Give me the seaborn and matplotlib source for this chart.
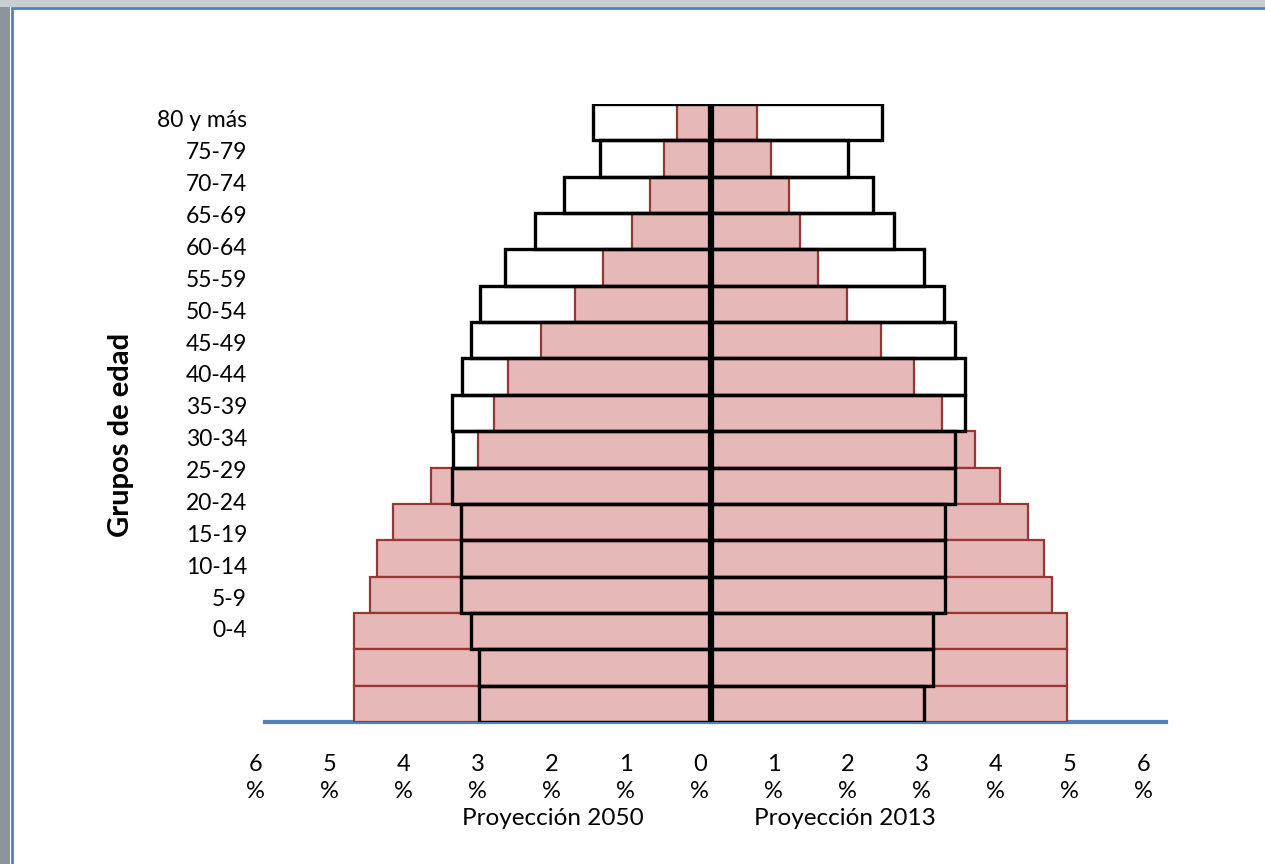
import matplotlib

matplotlib.use("Agg")

import matplotlib.pyplot as plt
import numpy as np
import seaborn as sns
from matplotlib.lines import Line2D
from matplotlib.patches import Rectangle

# === Datos (porcentaje de la población por grupo de edad) ===
grupos = [
    "80 y más", "75-79", "70-74", "65-69", "60-64", "55-59", "50-54",
    "45-49", "40-44", "35-39", "30-34", "25-29", "20-24", "15-19",
    "10-14", "5-9", "0-4",
]
izq_2013 = [0.47, 0.64, 0.83, 1.07, 1.47, 1.84, 2.31, 2.75, 2.94, 3.15,
            3.79, 4.31, 4.52, 4.61, 4.83, 4.83, 4.83]
der_2013 = [0.61, 0.80, 1.05, 1.20, 1.44, 1.83, 2.29, 2.73, 3.12, 3.56,
            3.90, 4.28, 4.49, 4.60, 4.81, 4.81, 4.81]
izq_2050 = [1.60, 1.50, 1.99, 2.38, 2.79, 3.13, 3.25, 3.37, 3.50, 3.49,
            3.50, 3.39, 3.39, 3.39, 3.25, 3.14, 3.14]
der_2050 = [2.30, 1.84, 2.18, 2.47, 2.87, 3.14, 3.29, 3.43, 3.43, 3.29,
            3.29, 3.15, 3.15, 3.15, 3.00, 3.00, 2.87]

ticks_pct = list(range(-6, 7))
tick_labels = [f"{abs(t)}\n%" for t in ticks_pct]

ROSA = "#e6b9b8"
ROJO = "#953735"
AZUL = "#4f81bd"

sns.set_theme(style="white")
plt.rcParams["font.family"] = ["Lato", "DejaVu Sans"]

W, H = 1265, 864
fig = plt.figure(figsize=(W / 100, H / 100), dpi=100)
fig.patch.set_facecolor("white")

# screenshot frame
fig.patches.append(Rectangle((0, 0), 10 / W, 1, transform=fig.transFigure,
                             facecolor="#8e949c", edgecolor="none", zorder=0))
fig.patches.append(Rectangle((0, 1 - 7 / H), 1, 7 / H, transform=fig.transFigure,
                             facecolor="#c9ced4", edgecolor="none", zorder=0))
fig.lines.append(Line2D([11.5 / W, 11.5 / W], [0, 1 - 8 / H], transform=fig.transFigure,
                        color=AZUL, lw=2))
fig.lines.append(Line2D([11.5 / W, 1], [1 - 8 / H, 1 - 8 / H], transform=fig.transFigure,
                        color=AZUL, lw=2))

# 74 px per percent point, zero at x = 711.5 px
X_MIN, X_MAX = -6.2, 6.142
ax_left = 711.5 + X_MIN * 74
ax = fig.add_axes([ax_left / W, 142 / H, (1166 - ax_left) / W, 618 / H])
ax.set_facecolor("none")

bar_common = dict(y=grupos, orient="y", width=1, errorbar=None, ax=ax)

# 2013: relleno rosa con borde rojo
sns.barplot(x=-np.array(izq_2013), color=ROSA, saturation=1,
            edgecolor=ROJO, linewidth=1.6, **bar_common)
sns.barplot(x=np.array(der_2013), color=ROSA, saturation=1,
            edgecolor=ROJO, linewidth=1.6, **bar_common)

# 2050: solo contorno negro
sns.barplot(x=-np.array(izq_2050), fill=False, color="black",
            facecolor="none", edgecolor="black", linewidth=2.4, **bar_common)
sns.barplot(x=np.array(der_2050), fill=False, color="black",
            facecolor="none", edgecolor="black", linewidth=2.4, **bar_common)

ax.axvline(0, color="black", lw=4.5, zorder=5)

# etiquetas del eje y (desfasadas respecto a las barras, como en el original)
ax.set_yticks(np.linspace(-0.09, 13.94, len(grupos)), grupos)
ax.set_xticks(np.array(ticks_pct) - 0.16, tick_labels)
ax.tick_params(axis="y", length=0, pad=4, labelsize=16.5, colors="black")
ax.tick_params(axis="x", length=0, pad=23, labelsize=17, colors="black")
for lbl in ax.get_xticklabels():
    lbl.set_linespacing(1.33)
    lbl.set_multialignment("center")

# limits after the ticks, so set_xticks does not widen the view
ax.set_xlim(X_MIN, X_MAX)
ax.set_ylim(len(grupos) - 0.5, -0.5)

ax.set_xlabel("")
ax.set_ylabel("")
for side in ["left", "right", "top"]:
    ax.spines[side].set_visible(False)
ax.spines["bottom"].set_bounds(-6.034, X_MAX)
ax.spines["bottom"].set_color(AZUL)
ax.spines["bottom"].set_linewidth(3)
ax.spines["bottom"].set_zorder(0)

fig.text(121 / W, 1 - 435 / H, "Grupos de edad", rotation=90, ha="center",
         va="center", fontsize=21, fontweight="bold", color="black")
fig.text(553 / W, 1 - 825 / H, "Proyección 2050", ha="center", va="baseline",
         fontsize=17.5, color="black")
fig.text(845 / W, 1 - 825 / H, "Proyección 2013", ha="center", va="baseline",
         fontsize=17.5, color="black")

fig.savefig("out.png", dpi=100, facecolor=fig.get_facecolor())
